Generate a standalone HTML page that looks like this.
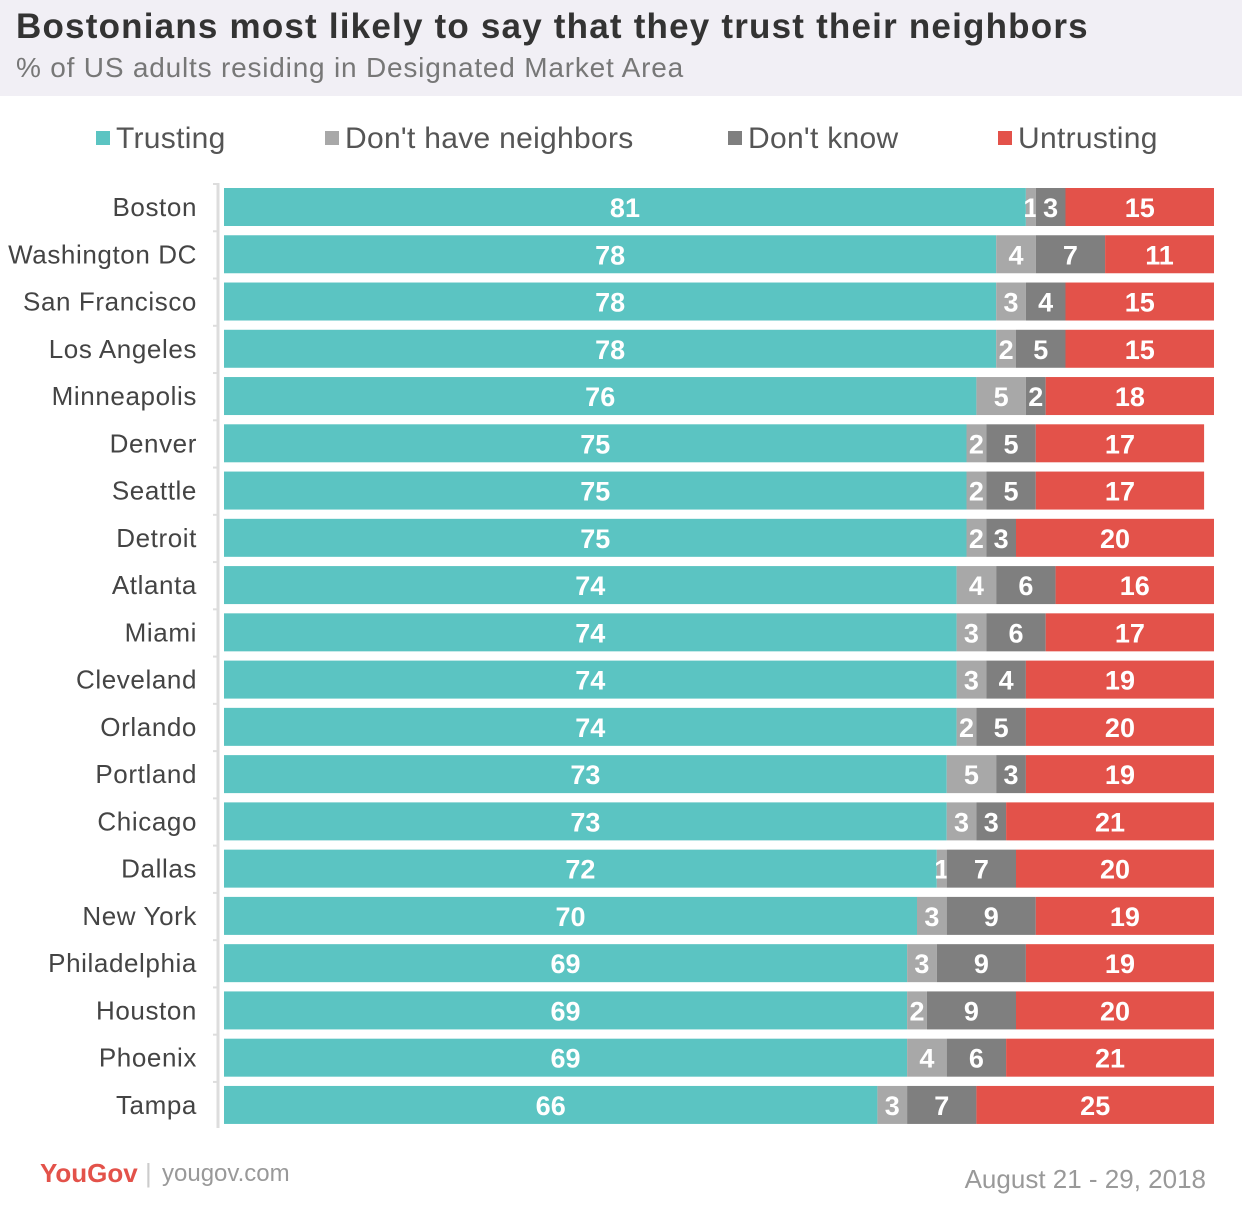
<!DOCTYPE html>
<html><head><meta charset="utf-8"><style>
body{margin:0;width:1242px;height:1206px;background:#fff;font-family:"Liberation Sans",sans-serif;position:relative;overflow:hidden}
#hdr{position:absolute;left:0;top:0;width:1242px;height:96px;background:#f1eff5}
#title{position:absolute;left:16px;top:7px;font-size:35px;font-weight:bold;color:#333;letter-spacing:1.2px}
#sub{position:absolute;left:16px;top:52px;font-size:28px;color:#777;letter-spacing:0.8px}
.leg{position:absolute;top:122px;font-size:30px;color:#555;white-space:nowrap;letter-spacing:0.3px}
.leg span{display:inline-block;width:14px;height:14px;margin-right:6px;vertical-align:3px}
#foot1{position:absolute;left:40px;top:1158px;font-size:26px;font-weight:bold;color:#e3524a}
#foot2{position:absolute;left:162px;top:1160px;font-size:24px;color:#999}
#date{position:absolute;right:36px;top:1164px;font-size:26px;color:#999}
</style></head><body>
<div id="hdr"></div>
<div id="title">Bostonians most likely to say that they trust their neighbors</div>
<div id="sub">% of US adults residing in Designated Market Area</div>
<div class="leg" style="left:96px"><span style="background:#5bc4c2"></span>Trusting</div>
<div class="leg" style="left:325px"><span style="background:#a8a8a8"></span>Don't have neighbors</div>
<div class="leg" style="left:728px"><span style="background:#7f7f7f"></span>Don't know</div>
<div class="leg" style="left:998px"><span style="background:#e3524a"></span>Untrusting</div>
<svg id="chart" width="1242" height="1206" style="position:absolute;left:0;top:0"></svg>
<div id="foot1">YouGov<span style="color:#ccc;font-weight:normal"> |</span></div>
<div id="foot2">yougov.com</div>
<div id="date">August 21 - 29, 2018</div>
<script>
const cities=["Boston","Washington DC","San Francisco","Los Angeles","Minneapolis","Denver","Seattle","Detroit","Atlanta","Miami","Cleveland","Orlando","Portland","Chicago","Dallas","New York","Philadelphia","Houston","Phoenix","Tampa"];
const trusting=[81,78,78,78,76,75,75,75,74,74,74,74,73,73,72,70,69,69,69,66];
const noNeighbors=[1,4,3,2,5,2,2,2,4,3,3,2,5,3,1,3,3,2,4,3];
const dontKnow=[3,7,4,5,2,5,5,3,6,6,4,5,3,3,7,9,9,9,6,7];
const untrusting=[15,11,15,15,18,17,17,20,16,17,19,20,19,21,20,19,19,20,21,25];
const colors=["#5bc4c2","#a8a8a8","#7f7f7f","#e3524a"];
const names=["trusting","no-neighbors","dont-know","untrusting"];
const svg=document.getElementById('chart');const NS="http://www.w3.org/2000/svg";
const x0=224,scale=9.9,top0=188,pitch=47.26,bh=38;
const xs=v=>Math.min(x0+v*scale,x0+100*scale), ys=i=>top0+i*pitch;
function mk(t,a){const e=document.createElementNS(NS,t);for(const k in a)e.setAttribute(k,a[k]);svg.appendChild(e);return e;}
const ax=mk('line',{x1:218,x2:218,y1:183,y2:1128,stroke:'#ddd','stroke-width':3});


cities.forEach((c,i)=>{
  const y=ys(i);
  const t=mk('text',{x:197,y:y+bh/2+9,'text-anchor':'end','font-size':26,fill:'#444','letter-spacing':0.6});t.textContent=c;
  
  
  const tk=mk('line',{x1:213,x2:218,y1:y-4,y2:y-4,stroke:'#ddd','stroke-width':2});
  
  
  const vals=[trusting[i],noNeighbors[i],dontKnow[i],untrusting[i]];
  let cum=0;
  vals.forEach((v,j)=>{
    const a=xs(cum),b=xs(cum+v);
    const r=mk('rect',{x:a,y:y,width:Math.max(0,b-a),height:bh,fill:colors[j]});
    
    
    const tx=mk('text',{x:(a+b)/2,y:y+bh/2+10,'text-anchor':'middle','font-size':27,'font-weight':'bold',fill:'#fff'});
    tx.textContent=v;
    
    
    cum+=v;
  });
});
</script>
</body></html>
